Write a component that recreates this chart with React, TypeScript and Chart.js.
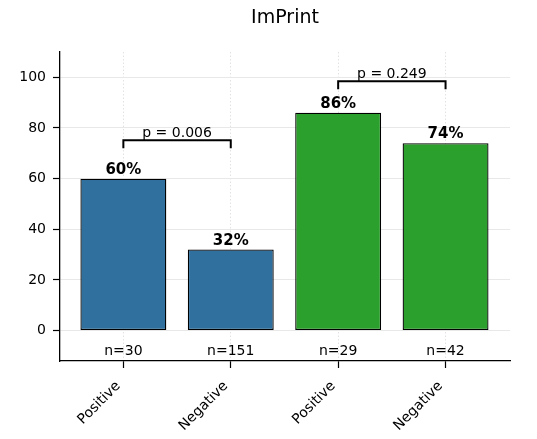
import React, { useEffect, useRef } from "react";
import { Chart, registerables } from "chart.js";

Chart.register(...registerables);

const titleText = "ImPrint";
const categories = ["Positive", "Negative", "Positive", "Negative"];
const percentages = [60, 32, 86, 74];
const sampleSizes = [30, 151, 29, 42];
const barColors = ["#30709e", "#30709e", "#2ca02c", "#2ca02c"];
const comparisonPairs = [
  [0, 1],
  [2, 3],
];
const pValueLabels = ["p = 0.006", "p = 0.249"];
const bracketLevels = [75.2, 98.5];
const bracketDrop = 3.2;
const nLabelLevel = -8;
const yTicks = [0, 20, 40, 60, 80, 100];

const FONT = "'DejaVu Sans', sans-serif";

const annotationPlugin = {
  id: "annotations",
  afterDatasetsDraw(chart: any) {
    const ctx = chart.ctx as CanvasRenderingContext2D;
    const xs = chart.scales.x;
    const ys = chart.scales.y;
    const area = chart.chartArea;
    ctx.save();
    ctx.fillStyle = "#000";
    ctx.strokeStyle = "#000";

    // bar value labels
    ctx.font = `bold 15px ${FONT}`;
    ctx.textAlign = "center";
    ctx.textBaseline = "alphabetic";
    percentages.forEach((v, i) => {
      ctx.fillText(`${v}%`, xs.getPixelForValue(i), ys.getPixelForValue(v) - 5);
    });

    // n labels
    ctx.font = `14px ${FONT}`;
    ctx.textBaseline = "middle";
    sampleSizes.forEach((n, i) => {
      ctx.fillText(`n=${n}`, xs.getPixelForValue(i), ys.getPixelForValue(nLabelLevel));
    });

    // brackets
    ctx.lineWidth = 2;
    ctx.lineJoin = "miter";
    comparisonPairs.forEach((pair, k) => {
      const x1 = xs.getPixelForValue(pair[0]);
      const x2 = xs.getPixelForValue(pair[1]);
      const yTop = ys.getPixelForValue(bracketLevels[k]);
      const yBot = ys.getPixelForValue(bracketLevels[k] - bracketDrop);
      ctx.beginPath();
      ctx.moveTo(x1, yBot);
      ctx.lineTo(x1, yTop);
      ctx.lineTo(x2, yTop);
      ctx.lineTo(x2, yBot);
      ctx.stroke();
      ctx.font = `14px ${FONT}`;
      ctx.textBaseline = "alphabetic";
      ctx.fillText(pValueLabels[k], (x1 + x2) / 2, yTop - 3);
    });

    // title
    ctx.font = `19px ${FONT}`;
    ctx.textBaseline = "middle";
    ctx.fillText(titleText, (area.left + area.right) / 2, 18);
    ctx.restore();
  },
};

export default function App() {
  const canvasRef = useRef<HTMLCanvasElement | null>(null);

  useEffect(() => {
    document.body.style.margin = "0";
    const canvas = canvasRef.current;
    if (!canvas) return;
    const chart = new Chart(canvas, {
      type: "bar",
      data: {
        datasets: [
          {
            data: percentages.map((v, i) => ({ x: i, y: v })),
            backgroundColor: barColors,
            borderColor: "#000",
            borderWidth: 1.3,
            borderSkipped: false,
            barPercentage: 0.8,
            categoryPercentage: 1,
          },
        ],
      },
      options: {
        responsive: false,
        animation: false,
        devicePixelRatio: 1,
        layout: { padding: { left: 0, right: 27, top: 52, bottom: 0 } },
        plugins: {
          legend: { display: false },
          title: { display: false },
          tooltip: { enabled: false },
        },
        scales: {
          x: {
            type: "linear",
            position: "bottom",
            offset: false,
            min: -0.59,
            max: 3.6,
            afterBuildTicks: (scale: any) => {
              scale.ticks = categories.map((_, i) => ({ value: i }));
            },
            afterFit: (scale: any) => {
              scale.height = 78;
            },
            ticks: {
              callback: (value: any) => categories[Number(value)] ?? "",
              minRotation: 45,
              maxRotation: 45,
              autoSkip: false,
              padding: 10,
              labelOffset: -5,
              color: "#000",
              font: { family: FONT, size: 14 },
            },
            grid: {
              offset: false,
              color: "#e2e2e2",
              lineWidth: 1,
              tickColor: "#000",
              tickLength: 7,
              tickWidth: 1.2,
            },
            border: { display: true, color: "#000", width: 1.3, dash: [1.5, 2] },
          },
          y: {
            type: "linear",
            position: "left",
            min: -12,
            max: 110,
            afterBuildTicks: (scale: any) => {
              scale.ticks = yTicks.map((v) => ({ value: v }));
            },
            afterFit: (scale: any) => {
              scale.width = 60;
            },
            ticks: {
              padding: 7,
              color: "#000",
              font: { family: FONT, size: 14 },
            },
            grid: {
              color: "#e8e8e8",
              lineWidth: 1,
              tickColor: "#000",
              tickLength: 7,
              tickWidth: 1.2,
            },
            border: { display: true, color: "#000", width: 1.3 },
          },
        },
      },
      plugins: [annotationPlugin],
    } as any);
    return () => chart.destroy();
  }, []);

  return (
    <div style={{ width: 537, height: 439 }}>
      <canvas ref={canvasRef} width={537} height={439} style={{ display: "block" }} />
    </div>
  );
}
